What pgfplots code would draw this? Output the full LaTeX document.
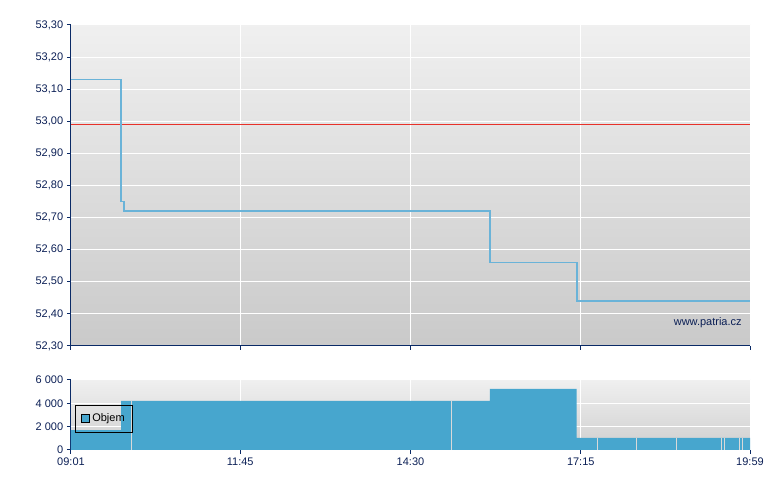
\documentclass[border=0pt]{standalone}
\usepackage{fontspec}
\setmainfont{Liberation Sans}
\usepackage{pgfplots}
\pgfplotsset{compat=1.18}
\definecolor{navy}{HTML}{0B1F55}
\definecolor{axisnavy}{HTML}{0A2A66}
\definecolor{lineblue}{HTML}{6AB3D8}
\definecolor{barblue}{HTML}{47A6CE}
\definecolor{refred}{HTML}{E8312A}
\begin{document}
\fontsize{11pt}{13pt}\selectfont
\begin{tikzpicture}
\useasboundingbox (0pt,0pt) rectangle (780pt,490pt);
\pgfplotsset{
  common/.style={
    scale only axis,
    anchor=south west,
    xmin=541, xmax=1199,
    axis x line*=bottom, axis y line*=left,
    axis line style={axisnavy, line width=1pt, -},
    tick align=outside,
    major tick length=4pt,
    tick style={axisnavy, line width=1pt},
    grid=major,
    major grid style={white, line width=1pt},
    xtick={541,705,870,1035,1199},
    ticklabel style={text=navy, font=\fontsize{11pt}{13pt}\selectfont},
    /pgf/number format/assume math mode=true,
    clip=true,
  }
}
\begin{axis}[common,
  at={(71pt,144pt)}, width=679pt, height=321pt,
  axis background/.style={shade, top color=black!6, bottom color=black!21},
  ymin=52.3, ymax=53.3,
  ytick={52.3,52.4,52.5,52.6,52.7,52.8,52.9,53.0,53.1,53.2,53.3},
  yticklabel style={/pgf/number format/.cd, fixed, fixed zerofill, precision=2, use comma},
  xticklabels={},
]
\addplot[refred, line width=1pt] coordinates {(541,52.99) (1199,52.99)};
\addplot[const plot, lineblue, line width=1.6pt] coordinates {
(541,53.13) (589.5,52.75) (592.4,52.72) (947,52.56) (1031.4,52.44) (1199,52.44)};
\node[anchor=south east, text=navy, inner sep=0pt] at (rel axis cs:0.988,0.057) {www.patria.cz};
\end{axis}
\begin{axis}[common,
  at={(71pt,40pt)}, width=679pt, height=70pt,
  axis background/.style={shade, top color=black!6, bottom color=black!19},
  ymin=0, ymax=6000,
  ytick={0,2000,4000,6000},
  yticklabels={0,2 000,4 000,6 000},
  xticklabels={09:01,11:45,14:30,17:15,19:59},
  legend style={at={(0.006,0.643)}, anchor=north west, draw=black, fill=none,
    line width=0.8pt, font=\fontsize{11pt}{13pt}\selectfont, inner xsep=6pt, inner ysep=6.5pt,
    legend cell align=left},
  legend image code/.code={\draw[fill=barblue, draw=black, line width=0.8pt] (0pt,-4pt) rectangle (8pt,4pt);},
]
\addplot[const plot, fill=barblue, draw=none] coordinates {
(541,1714) (589.5,4200) (947,5230) (1031,1030) (1199,1030)} \closedcycle;
\addlegendentry{Objem\hspace{4pt}}
\addplot[ycomb, white!85!black, line width=1pt, forget plot] coordinates {
(600,4200) (910,4200) (1051,1030) (1089,1030) (1127.6,1030) (1171,1030) (1173.8,1030) (1188.6,1030) (1192,1030)};
\end{axis}
\end{tikzpicture}
\end{document}
